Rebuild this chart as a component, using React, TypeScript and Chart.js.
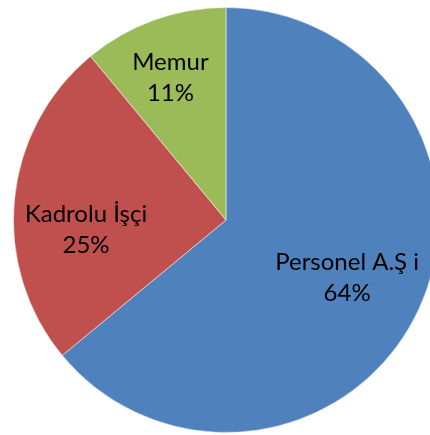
import React, { useEffect, useRef } from "react";
import { Chart, registerables } from "chart.js";

Chart.register(...registerables);

const categories = ["Personel A.Ş i", "Kadrolu İşçi", "Memur"];
const values = [64, 25, 11];
const percentLabels = ["64%", "25%", "11%"];
const colors = ["#4F81BD", "#C0504D", "#9BBB59"];
// label anchor: fraction of radius and angle tweak (degrees) per slice
const labelRadius = [0.63, 0.66, 0.72];
const labelAngleShift = [0, -9, -1.5];

const labelPlugin = {
  id: "sliceLabels",
  afterDatasetsDraw(chart: any) {
    const ctx = chart.ctx;
    const meta = chart.getDatasetMeta(0);
    ctx.save();
    ctx.fillStyle = "#000000";
    ctx.font = '24px Lato, "Noto Sans", sans-serif';
    ctx.textAlign = "center";
    ctx.textBaseline = "middle";
    meta.data.forEach((arc: any, i: number) => {
      const { x, y, startAngle, endAngle, outerRadius } = arc.getProps(
        ["x", "y", "startAngle", "endAngle", "outerRadius"],
        true
      );
      const mid = (startAngle + endAngle) / 2 + (labelAngleShift[i] * Math.PI) / 180;
      const r = outerRadius * labelRadius[i];
      const cx = x + Math.cos(mid) * r;
      const cy = y + Math.sin(mid) * r;
      ctx.fillText(categories[i], cx, cy - 15);
      ctx.fillText(percentLabels[i], cx, cy + 16);
    });
    ctx.restore();
  },
};

export default function App() {
  const ref = useRef<HTMLCanvasElement>(null);
  useEffect(() => {
    if (!ref.current) return;
    const chart = new Chart(ref.current, {
      type: "pie",
      data: {
        labels: categories,
        datasets: [
          {
            data: values,
            backgroundColor: colors,
            borderColor: "rgba(255,255,255,0.5)",
            borderWidth: 1,
          },
        ],
      },
      options: {
        responsive: false,
        animation: false,
        layout: { padding: 7 },
        plugins: {
          legend: { display: false },
          tooltip: { enabled: false },
        },
      },
      plugins: [labelPlugin],
    });
    return () => chart.destroy();
  }, []);
  return (
    <div
      style={{
        position: "absolute",
        left: 0,
        top: 0,
        width: 430,
        height: 435,
        overflow: "hidden",
        background: "#ffffff",
      }}
    >
      <canvas ref={ref} width={452} height={440} style={{ display: "block" }} />
    </div>
  );
}
